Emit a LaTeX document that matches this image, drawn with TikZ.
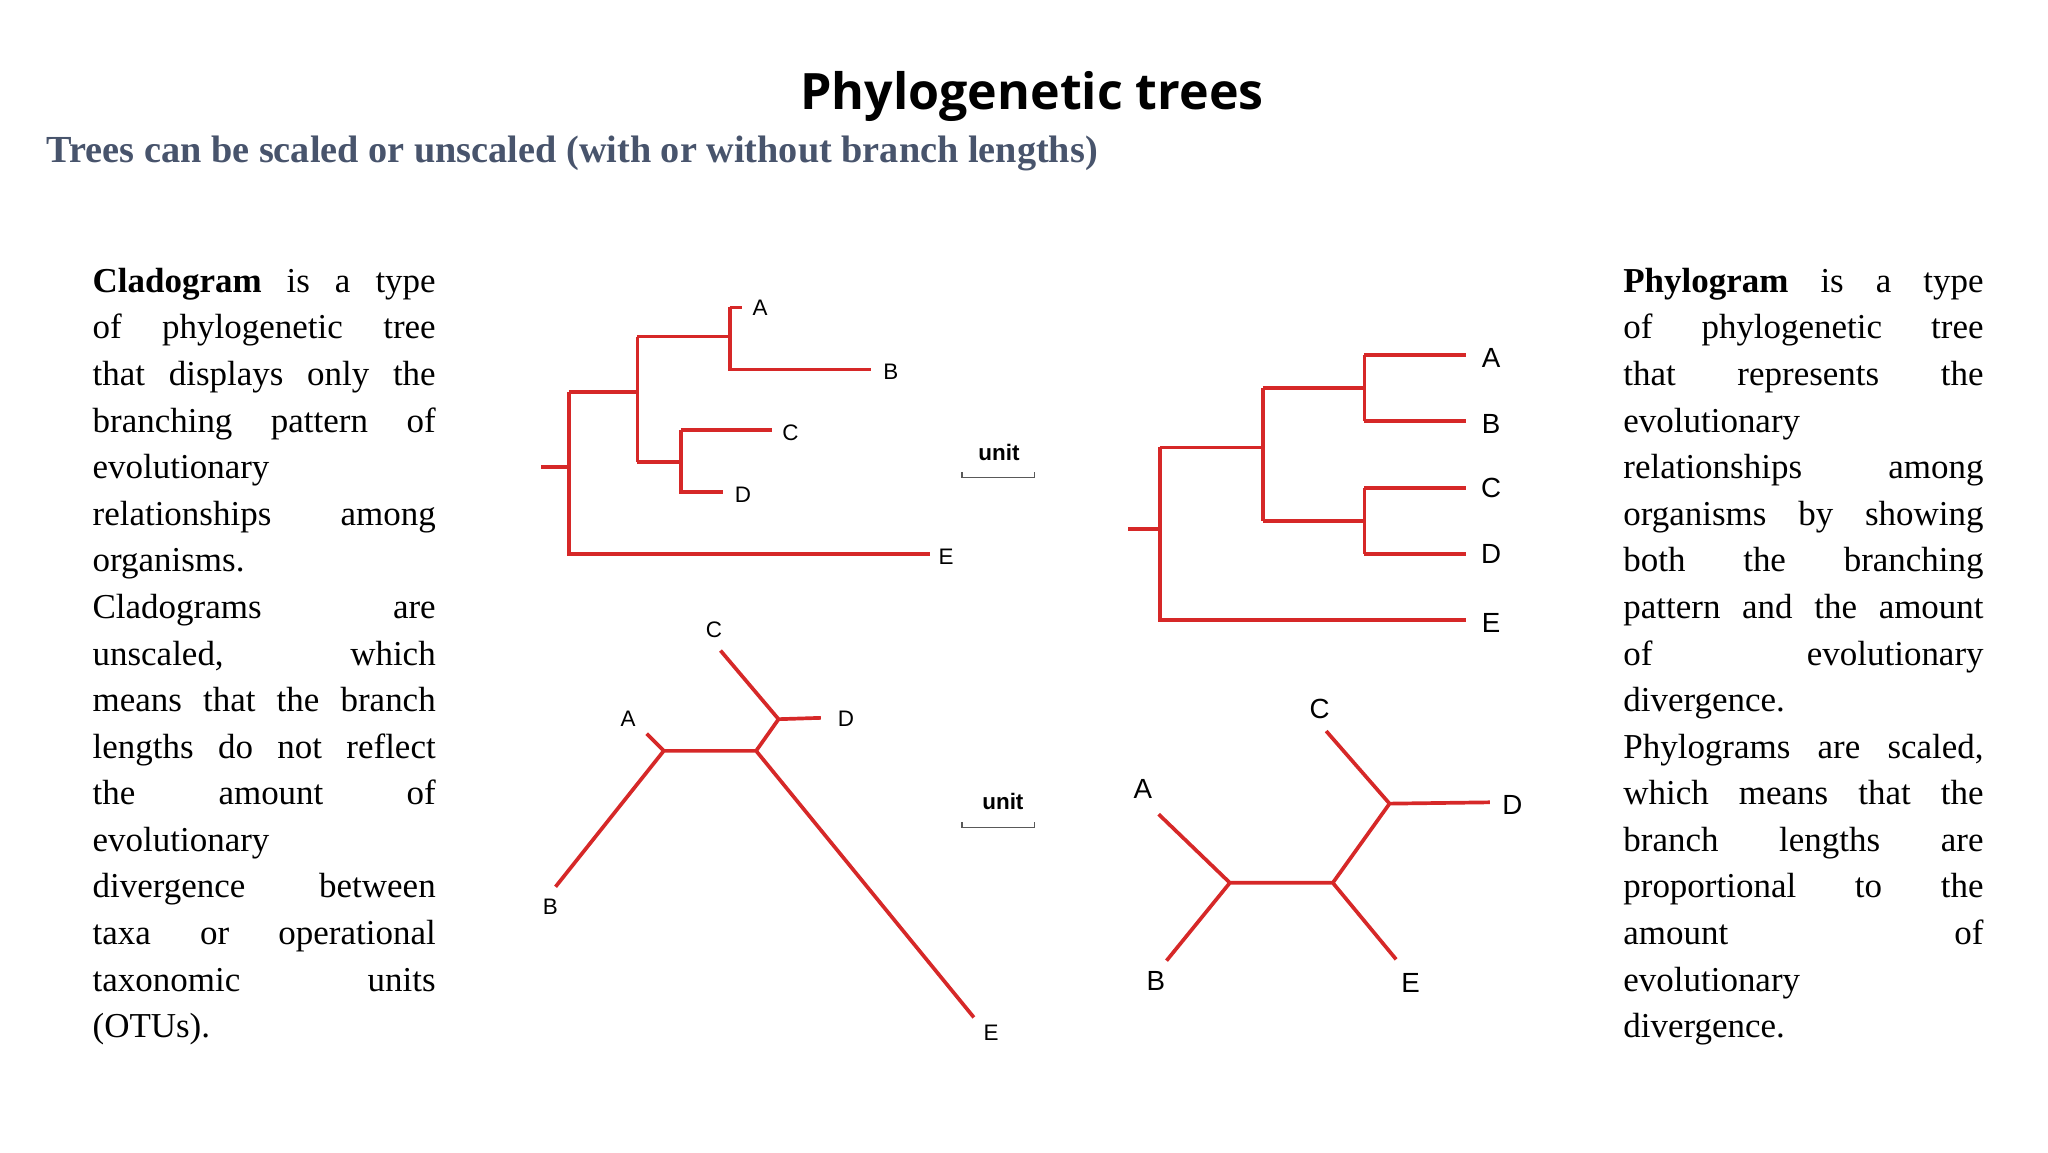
\documentclass[tikz,border=0pt]{standalone}
\usepackage{fontspec}
\setmainfont{Liberation Serif}
\newfontfamily\lab{Liberation Sans}
\newfontfamily\ttl{Open Sans}
\definecolor{tr}{RGB}{214,40,40}
\definecolor{sub}{RGB}{72,84,108}
\begin{document}
\begin{tikzpicture}[x=1pt,y=-1pt,
 br/.style={draw=tr,line width=2.8pt},
 lb/.style={font=\lab\fontsize{17}{17}\selectfont},
 lbb/.style={font=\lab\fontsize{21}{21}\selectfont},
 para/.style={anchor=north west,inner sep=0pt,align=justify,font=\fontsize{26.5}{35.3}\selectfont}]
\useasboundingbox (0,0) rectangle (1552,873);
\node[font=\ttl\bfseries\fontsize{38}{38}\selectfont] (title) at (782,73) {Phylogenetic trees};
\node[anchor=west,text=sub,font=\bfseries\fontsize{29}{29}\selectfont] (subt) at (32,116) {Trees can be scaled or unscaled (with or without branch lengths)};
\node[para,text width=260pt] (left) at (70,203) {\tolerance=10000\hbadness=10000
\textbf{Cladogram} is a type\linebreak of phylogenetic tree\linebreak that displays only the\linebreak branching pattern of\linebreak evolutionary\linebreak relationships among\linebreak organisms.\par Cladograms are\linebreak unscaled, which\linebreak means that the branch\linebreak lengths do not reflect\linebreak the amount of\linebreak evolutionary\linebreak divergence between\linebreak taxa or operational\linebreak taxonomic units\linebreak (OTUs).};
\node[para,text width=273pt] (right) at (1230,203) {\tolerance=10000\hbadness=10000
\textbf{Phylogram} is a type\linebreak of phylogenetic tree\linebreak that represents the\linebreak evolutionary\linebreak relationships among\linebreak organisms by showing\linebreak both the branching\linebreak pattern and the amount\linebreak of evolutionary\linebreak divergence.\par Phylograms are scaled,\linebreak which means that the\linebreak branch lengths are\linebreak proportional to the\linebreak amount of\linebreak evolutionary\linebreak divergence.};
% cladogram rooted
\draw[br] (410,354)--(431,354) (431,297)--(431,420)--(705,420) (431,297)--(483,297) (483,255)--(483,350)
 (483,255)--(553,255) (553,233)--(553,280)--(660,280) (553,233)--(562,233)
 (483,350)--(516,350) (516,326)--(516,373)--(548,373) (516,326)--(585,326);
\node[lb] (cA) at (576,233) {A}; \node[lb] (cB) at (675,282) {B}; \node[lb] (cC) at (599,328) {C};
\node[lb] (cD) at (563,375) {D}; \node[lb] (cE) at (717,422) {E};
% units
\node[font=\lab\bfseries\fontsize{17}{17}\selectfont] (u1) at (757,343) {unit};
\draw[gray!70!black,line width=0.8pt] (729,358)--(729,362)--(784,362)--(784,358);
\node[font=\lab\bfseries\fontsize{17}{17}\selectfont] (u2) at (760,607) {unit};
\draw[gray!70!black,line width=0.8pt] (729,623)--(729,627)--(784,627)--(784,623);
% phylogram rooted
\draw[br] (855,401)--(879,401) (879,339)--(879,470)--(1111,470) (879,339)--(957,339) (957,294)--(957,395)
 (957,294)--(1034,294) (1034,269)--(1034,319) (1034,269)--(1111,269) (1034,319)--(1111,319)
 (957,395)--(1034,395) (1034,370)--(1034,420) (1034,370)--(1111,370) (1034,420)--(1111,420);
\node[lbb] (pA) at (1130,271) {A}; \node[lbb] (pB) at (1130,321) {B}; \node[lbb] (pC) at (1130,370) {C};
\node[lbb] (pD) at (1130,420) {D}; \node[lbb] (pE) at (1130,472) {E};
% unrooted cladogram
\draw[br] (490,556)--(503,569)--(573,569)--(590,545)--(622,544) (421,672)--(503,569) (546,493)--(590,545) (573,569)--(738,771);
\node[lb] (uA) at (476,545) {A}; \node[lb] (uB) at (417,687) {B}; \node[lb] (uC) at (541,477) {C};
\node[lb] (uD) at (641,545) {D}; \node[lb] (uE) at (751,783) {E};
% unrooted phylogram
\draw[br] (878,617)--(932,669)--(1010,669)--(1053,609)--(1129,608) (884,728)--(932,669) (1005,554)--(1053,609) (1010,669)--(1058,727);
\node[lbb] (vA) at (866,598) {A}; \node[lbb] (vB) at (876,743) {B}; \node[lbb] (vC) at (1000,537) {C};
\node[lbb] (vD) at (1146,610) {D}; \node[lbb] (vE) at (1069,745) {E};
\end{tikzpicture}
\end{document}
